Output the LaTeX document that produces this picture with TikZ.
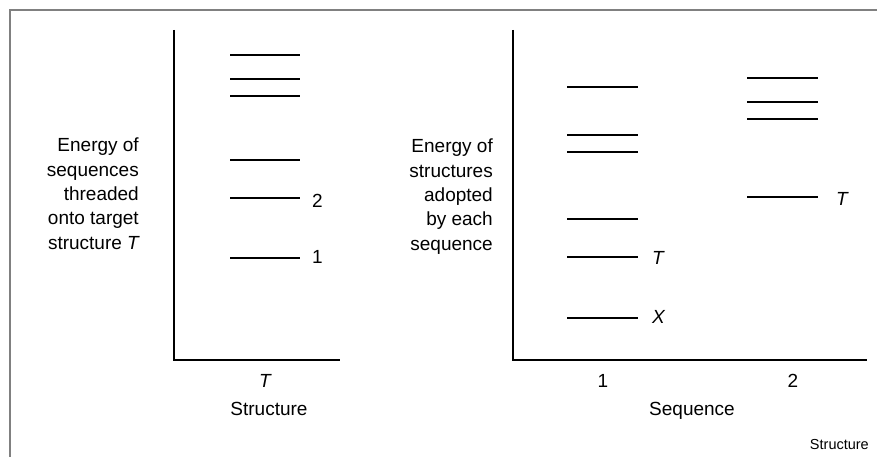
\documentclass[tikz,border=0pt]{standalone}
\usepackage{fontspec}
\setmainfont{Liberation Sans}
\begin{document}
\begin{tikzpicture}[x=1pt,y=-1pt,
  frame/.style={draw=black!50, line width=1.3pt},
  axis/.style={draw=black, line width=1.6pt},
  level/.style={draw=black, line width=1.4pt},
  lab/.style={font=\fontsize{19}{24.3}\selectfont, inner sep=0pt},
  small/.style={font=\fontsize{14.5}{17}\selectfont, inner sep=0pt}]
\useasboundingbox (0,0) rectangle (877,457);

% outer frame (open at right and bottom)
\draw[frame] (877,10) -- (10,10) -- (10,457);

% left panel axes
\coordinate (la-top) at (174,30);
\coordinate (la-org) at (174,360);
\coordinate (la-end) at (340,360);
\draw[axis] (la-top) -- (la-org) -- (la-end);

% right panel axes
\coordinate (ra-top) at (513,30);
\coordinate (ra-org) at (513,360);
\coordinate (ra-end) at (867,360);
\draw[axis] (ra-top) -- (ra-org) -- (ra-end);

% energy levels, target structure T
\foreach \y in {55,79,96,160,198,258}
  \draw[level] (230,\y) -- (300,\y);

% energy levels, sequence 1
\foreach \y in {87,135,152,219,257,318}
  \draw[level] (567,\y) -- (638,\y);

% energy levels, sequence 2
\foreach \y in {78,102,119,197}
  \draw[level] (747,\y) -- (818,\y);

% level labels
\node[lab, anchor=base west] (l2) at (312,207) {2};
\node[lab, anchor=base west] (l1) at (312,263) {1};
\node[lab, anchor=base west] (s1t) at (652,264) {\itshape T};
\node[lab, anchor=base west] (s1x) at (652,323) {\itshape X};
\node[lab, anchor=base west] (s2t) at (836,205) {\itshape T};

% axis titles (base anchor sits on the last line)
\node[lab, align=right, anchor=base east] (ly) at (139,249)
  {Energy of\\sequences\\threaded\\onto target\\structure \itshape T};
\node[lab, align=right, anchor=base east] (ry) at (493,250)
  {Energy of\\structures\\adopted\\by each\\sequence};

% tick labels and axis names
\node[lab, anchor=base] (tT) at (265,387) {\itshape T};
\node[lab, anchor=base] (lx) at (269,415) {Structure};
\node[lab, anchor=base] (t1) at (603,387) {1};
\node[lab, anchor=base] (t2) at (793,387) {2};
\node[lab, anchor=base] (rx) at (692,415) {Sequence};

% corner caption
\node[small, anchor=base east] (cap) at (869,449) {Structure};
\end{tikzpicture}
\end{document}
